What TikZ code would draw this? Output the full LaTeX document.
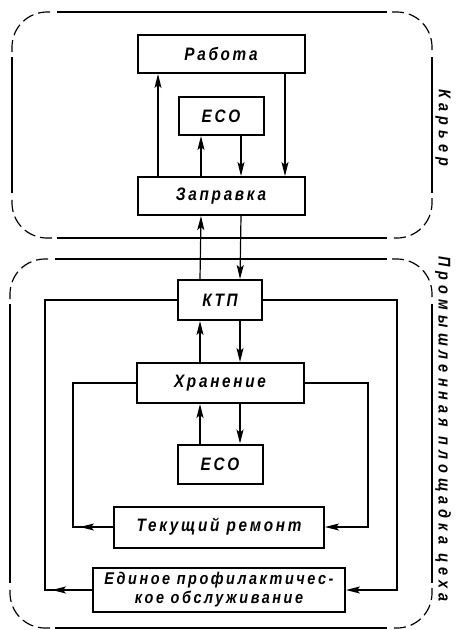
\documentclass[tikz,border=0pt]{standalone}
\usepackage{fontspec}
\setmainfont{Liberation Sans}
\newfontfamily\gostfont{Liberation Sans}[LetterSpace=15, FakeStretch=0.85]
\newfontfamily\zonefont{Liberation Sans}[LetterSpace=30, FakeStretch=0.85]
\usetikzlibrary{arrows.meta}

\begin{document}
\begin{tikzpicture}[
  x=1pt, y=-1pt,
  >={Stealth[length=14pt, width=7pt, inset=3pt]},
  blk/.style={draw, line width=2pt, inner sep=1pt, align=center,
    font=\gostfont\bfseries\itshape\fontsize{18}{18}\selectfont},
  link/.style={->, line width=1.2pt},
  wire/.style={line width=1.2pt},
  side/.style={line width=1.2pt},
  rim/.style={line width=1.2pt, rounded corners=35pt, dash pattern=on 12pt off 5pt},
  zone/.style={rotate=-90, font=\zonefont\bfseries\itshape\fontsize{17}{18}\selectfont},
]
\useasboundingbox (0,0) rectangle (456,630);

% ══════════════════════════════════════════════════════
% Region borders (dashed round corners, long straight sides)
% ══════════════════════════════════════════════════════
% -- Карьер: x 12..432, y 12..238
\draw[rim] (12,52) |- (52,12);
\draw[rim] (392,12) -| (432,52);
\draw[rim] (432,198) |- (392,238);
\draw[rim] (52,238) -| (12,198);
\draw[side] (12,57) -- (12,193);
\draw[side] (57,12) -- (387,12);
\draw[side] (432,57) -- (432,193);
\draw[side] (57,238) -- (387,238);

% -- Промышленная площадка: x 10..432, y 259..628
\draw[rim] (10,299) |- (50,259);
\draw[rim] (392,259) -| (432,299);
\draw[rim] (432,588) |- (392,628);
\draw[rim] (50,628) -| (10,588);
\draw[side] (10,304) -- (10,583);
\draw[side] (55,259) -- (387,259);
\draw[side] (432,304) -- (432,583);
\draw[side] (55,628) -- (387,628);

\node[zone] (karer) at (443,128) {Карьер};
\node[zone] (plosh) at (443,429) {Промышленная площадка цеха};

% ══════════════════════════════════════════════════════
% Blocks
% ══════════════════════════════════════════════════════
\node[blk, minimum width=167pt, minimum height=38pt] (rab)  at (221,54)  {Работа};
\node[blk, minimum width=85pt,  minimum height=38pt] (ecoA) at (221,116) {ЕСО};
\node[blk, minimum width=167pt, minimum height=38pt] (zap)  at (221,196) {Заправка};
\node[blk, minimum width=84pt,  minimum height=40pt] (ktp)  at (220,300) {КТП};
\node[blk, minimum width=167pt, minimum height=40pt] (hran) at (220,383) {Хранение};
\node[blk, minimum width=85pt,  minimum height=39pt] (ecoB) at (220,464) {ЕСО};
\node[blk, minimum width=210pt, minimum height=41pt] (tek)  at (219,527) {Текущий ремонт};
\node[blk, minimum width=252pt, minimum height=44pt, inner sep=0pt,
  font=\gostfont\bfseries\itshape\fontsize{17}{19}\selectfont] (epo)  at (219,590)
  {Единое профилактичес-\\кое обслуживание};

% ══════════════════════════════════════════════════════
% Links in the quarry
% ══════════════════════════════════════════════════════
\draw[link] ([xshift=-63pt]zap.north) -- ([xshift=-63pt]rab.south);
\draw[link] ([xshift=64pt]rab.south)  -- ([xshift=64pt]zap.north);
\draw[link] ([xshift=-20pt]zap.north) -- ([xshift=-20pt]ecoA.south);
\draw[link] ([xshift=20pt]ecoA.south) -- ([xshift=20pt]zap.north);

% ══════════════════════════════════════════════════════
% Links on the shop site
% ══════════════════════════════════════════════════════
\draw[link] ([xshift=-20pt]ktp.north) -- ([xshift=-20pt]zap.south);
\draw[link] ([xshift=20pt]zap.south)  -- ([xshift=20pt]ktp.north);
\draw[link] ([xshift=-20pt]hran.north) -- ([xshift=-20pt]ktp.south);
\draw[link] ([xshift=20pt]ktp.south)   -- ([xshift=20pt]hran.north);
\draw[link] ([xshift=-20pt]ecoB.north) -- ([xshift=-20pt]hran.south);
\draw[link] ([xshift=20pt]hran.south)  -- ([xshift=20pt]ecoB.north);

% -- loops round the repair blocks
\coordinate (tekL)  at (73,527);
\coordinate (tekLa) at (80,527);
\coordinate (tekR)  at (368,527);
\coordinate (epoL)  at (45,590);
\coordinate (epoLa) at (52,590);
\coordinate (epoR)  at (397,590);

\draw[link] (hran.east) -| (tekR) -- (tek.east);
\draw[wire] (hran.west) -| (tekL) -- (tek.west);
\draw[link] (tek.west) -- (tekLa);

\draw[link] (ktp.east) -| (epoR) -- (epo.east);
\draw[wire] (ktp.west) -| (epoL) -- (epo.west);
\draw[link] (epo.west) -- (epoLa);

\end{tikzpicture}
\end{document}
